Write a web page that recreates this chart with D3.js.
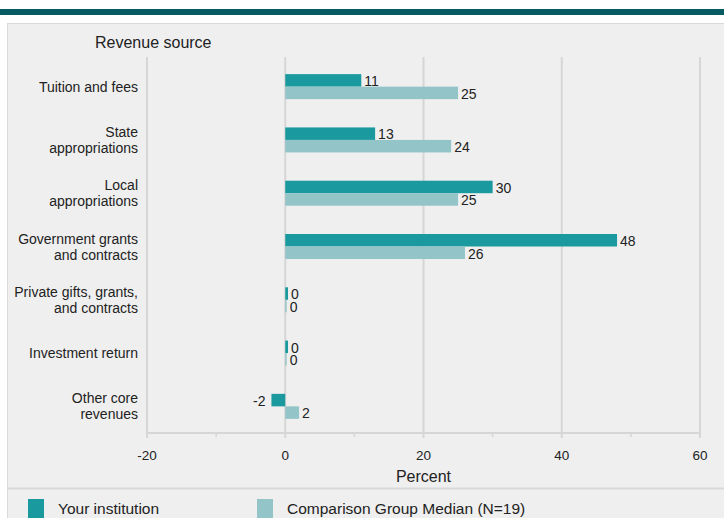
<!DOCTYPE html>
<html><head><meta charset="utf-8">
<script src="https://cdn.jsdelivr.net/npm/d3@7/dist/d3.min.js"></script>
<style>body{margin:0;background:#fff}svg{display:block;font-family:"Liberation Sans",Arial,sans-serif}</style>
</head><body><svg id="c" width="724" height="518"></svg>
<script>
const categories = [["Tuition and fees"],["State","appropriations"],["Local","appropriations"],["Government grants","and contracts"],["Private gifts, grants,","and contracts"],["Investment return"],["Other core","revenues"]];
const institution = [11, 13, 30, 48, 0.4, 0.4, -2];
const institutionLabels = ["11","13","30","48","0","0","-2"];
const median = [25, 24, 25, 26, 0.2, 0.2, 2];
const medianLabels = ["25","24","25","26","0","0","2"];
const xTicks = [-20, 0, 20, 40, 60];
const minorTicks = [-10, 10, 30, 50];
const seriesNames = ["Your institution", "Comparison Group Median (N=19)"];
const colors = ["#1a9a9e", "#93c4c8"];

const svg = d3.select("#c");
const grid = "#d6d6d6";
svg.append("rect").attr("x",0).attr("y",9).attr("width",724).attr("height",6).attr("fill","#065c62");
svg.append("rect").attr("x",7.5).attr("y",23.5).attr("width",720).attr("height",500).attr("fill","#efefef").attr("stroke","#d9d9d9");
svg.append("line").attr("x1",7.5).attr("x2",724).attr("y1",488.5).attr("y2",488.5).attr("stroke","#d9d9d9").attr("stroke-width",2);

const x = d3.scaleLinear().domain([-20,60]).range([147,700]);
const y = d3.scaleBand().domain(d3.range(categories.length)).range([60,433]);
const bh = 12.5;

// gridlines
svg.append("g").selectAll("line").data(xTicks).join("line")
  .attr("x1",d=>x(d)).attr("x2",d=>x(d)).attr("y1",57).attr("y2",433)
  .attr("stroke",grid).attr("stroke-width",2);
// axis
const ax = svg.append("g").attr("transform","translate(0,433)");
ax.append("line").attr("x1",x(-20)).attr("x2",x(60)).attr("stroke",grid).attr("stroke-width",2);
ax.selectAll(".mj").data(xTicks).join("line").attr("x1",d=>x(d)).attr("x2",d=>x(d)).attr("y1",0).attr("y2",5).attr("stroke",grid).attr("stroke-width",2);
ax.selectAll(".mn").data(minorTicks).join("line").attr("x1",d=>x(d)).attr("x2",d=>x(d)).attr("y1",0).attr("y2",4).attr("stroke",grid).attr("stroke-width",1.5);
ax.selectAll("text").data(xTicks).join("text").attr("x",d=>x(d)).attr("y",27).attr("text-anchor","middle")
  .attr("font-size",13.5).attr("fill","#222").text(d=>d);
svg.append("text").attr("x",x(20)).attr("y",482).attr("text-anchor","middle").attr("font-size",16).attr("fill","#222").text("Percent");
svg.append("text").attr("x",95).attr("y",48).attr("font-size",16).attr("fill","#222").text("Revenue source");

// category labels
categories.forEach((lines,i)=>{
  const cy = y(i)+y.bandwidth()/2;
  const t = svg.append("text").attr("text-anchor","end").attr("font-size",14).attr("fill","#222");
  lines.forEach((l,j)=>{
    t.append("tspan").attr("x",138).attr("y",cy + 5 + (j - (lines.length-1)/2)*16).text(l);
  });
});

const series = [institution, median];
const labels = [institutionLabels, medianLabels];
series.forEach((vals,s)=>{
  const g = svg.append("g");
  g.selectAll("rect").data(vals).join("rect")
    .attr("x",d=>x(Math.min(0,d))).attr("width",d=>Math.abs(x(d)-x(0)))
    .attr("y",(d,i)=>y(i)+y.bandwidth()/2 - bh + s*bh).attr("height",bh)
    .attr("fill",colors[s]);
  g.selectAll("text").data(vals).join("text")
    .attr("x",d=>d<0 ? x(d)-6 : x(d)+3)
    .attr("text-anchor",d=>d<0?"end":"start")
    .attr("y",(d,i)=>y(i)+y.bandwidth()/2 + s*bh - 0.5)
    .attr("font-size",14).attr("fill","#222").text((d,i)=>labels[s][i]);
});

// legend
const lx = [28, 257];
seriesNames.forEach((n,i)=>{
  svg.append("rect").attr("x",lx[i]).attr("y",499).attr("width",16).attr("height",19).attr("fill",colors[i]);
  svg.append("text").attr("x",lx[i]+30).attr("y",514).attr("font-size",15.5).attr("fill","#222").text(n);
});
</script></body></html>
